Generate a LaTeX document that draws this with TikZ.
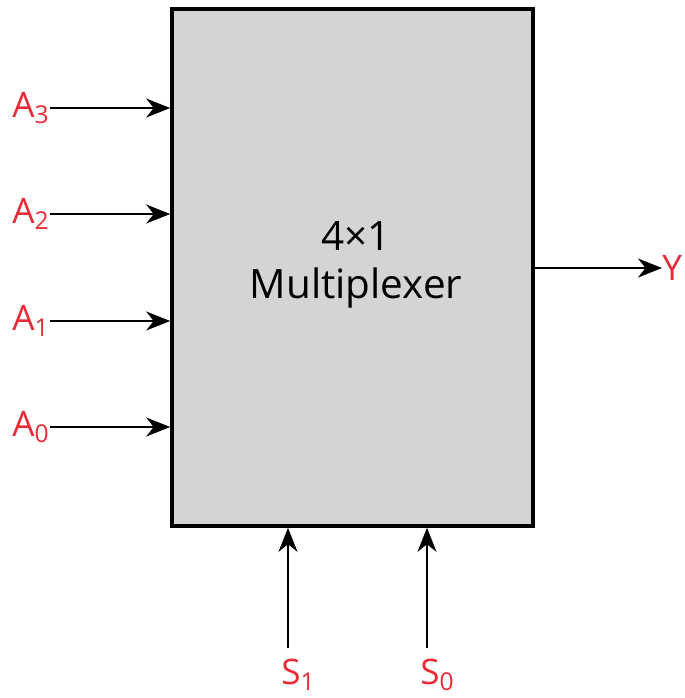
\documentclass[tikz,border=0pt]{standalone}
\usepackage{fontspec}
\setmainfont{Open Sans}
\usetikzlibrary{arrows.meta}
\definecolor{sigred}{RGB}{232,43,54}
\definecolor{muxgray}{RGB}{214,211,212}
\begin{document}
\begin{tikzpicture}[
    x=0.02cm, y=-0.02cm,
    muxbox/.style={rectangle, draw, line width=2.1pt, fill=muxgray,
      minimum width=7.22cm, minimum height=10.34cm, inner sep=0pt},
    arr/.style={-{Stealth[length=4.8mm, width=3.8mm, inset=1.5mm]}, line width=1.2pt},
    sig/.style={text=sigred, font=\fontsize{20}{24}\selectfont, inner sep=0pt}
  ]
  \useasboundingbox (0,0) rectangle (685,698);
  % Block
  \node[muxbox] (mux) at (352.5,267.5) {};
  \node[font=\fontsize{23}{27}\selectfont, align=center] (name) at (356,265)
    {4×1\\Multiplexer};

  % Data inputs
  \foreach \i/\y in {3/108, 2/214, 1/321, 0/427} {
    \coordinate (in\i) at (50,\y);
    \node[sig, anchor=east] (a\i) at (in\i) {A\textsubscript{\i}};
    \draw[arr] (in\i) -- (in\i -| mux.west);
  }

  % Output
  \coordinate (out) at (662,268);
  \draw[arr] (out -| mux.east) -- (out);
  \node[sig, anchor=west] (y) at (out) {Y};

  % Select lines
  \foreach \i/\x in {1/288, 0/427} {
    \coordinate (sel\i) at (\x,648);
    \node[sig, anchor=north west] (s\i) at (\x-7,659) {S\textsubscript{\i}};
    \draw[arr] (sel\i) -- (sel\i |- mux.south);
  }
\end{tikzpicture}
\end{document}
